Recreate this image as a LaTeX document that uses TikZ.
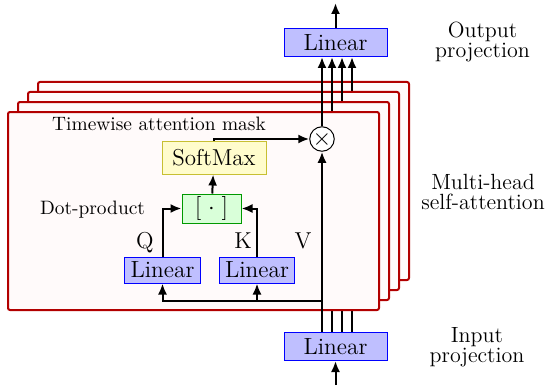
\documentclass[tikz,border=0pt]{standalone}
\usepackage{tikz}
\usetikzlibrary{arrows.meta}
\usepackage{amssymb}
\usepackage{xcolor}

\begin{document}
\begin{tikzpicture}[x=0.5pt,y=0.5pt,yscale=-1,xscale=1,
  linbox/.style={draw=blue,fill=blue!25,line width=0.5pt,inner xsep=3pt,inner ysep=0pt,minimum height=13pt,font=\fontsize{11.7}{14}\selectfont},
  projbox/.style={linbox,minimum width=51.5pt,minimum height=14pt},
  dotbox/.style={draw=green!60!black,fill=green!15,line width=0.5pt,minimum width=29.5pt,minimum height=14.5pt,inner sep=0pt,font=\fontsize{11.5}{14}\selectfont},
  smbox/.style={draw=yellow!75!black,fill=yellow!20,line width=0.5pt,minimum width=52pt,minimum height=16.5pt,inner sep=0pt,font=\fontsize{11.5}{14}\selectfont},
  headbox/.style={draw=red!70!black,fill=red!2,line width=1pt,rounded corners=1pt,minimum width=185.5pt,minimum height=99pt,inner sep=0pt},
  mulnode/.style={circle,draw,fill=white,line width=0.5pt,inner sep=0pt,minimum size=11pt,font=\fontsize{12}{14}\selectfont},
  flow/.style={line width=1pt,-{Latex[length=5.5pt,width=4.5pt]}},
  lbl/.style={anchor=base,inner sep=0pt,font=\fontsize{9.7}{11}\selectfont},
  side/.style={align=center,inner sep=0pt,font=\fontsize{11}{10}\selectfont}
]
\useasboundingbox (0,0) rectangle (545,385);

%Shape: Input / output projections
\node[projbox] (topLin) at (335.5,42.5) {Linear};
\node[projbox] (botLin) at (335.5,346.5) {Linear};
\coordinate (inp) at (335.5,385);
\coordinate (outp) at (335.5,3);
\draw[flow] (inp) -- (botLin);
\draw[flow] (topLin) -- (outp);

%Shape: back heads
\foreach \k in {3,2,1}{
  \node[headbox] (hd\k) at (193.5+10*\k,211-10*\k) {};
  \coordinate (v\k) at (322+10*\k,211-10*\k);
  \draw[flow] (botLin.north -| v\k) -- (topLin.south -| v\k);
}

%Shape: front head
\node[headbox] (hd0) at (193.5,211) {};
\node[mulnode] (mul) at (322,139) {$\times$};
\node[smbox] (sm) at (214,157.5) {SoftMax};
\node[dotbox] (dot) at (211.5,208.5) {$[\;\cdot\;]$};
\node[linbox] (lq) at (162.5,270) {Linear};
\node[linbox] (lk) at (257,270) {Linear};
\coordinate (tap) at (322,301);

%Straight Lines
\draw[flow] (botLin.north -| mul) -- (mul);
\draw[flow] (mul) -- (topLin.south -| mul);
\draw[flow] (tap) -| (lq);
\draw[flow] (tap -| lk) -- (lk);
\draw[flow] (lq) |- (dot);
\draw[flow] (lk) |- (dot);
\draw[flow] (dot) -- (sm);
\draw[flow] (sm) |- (mul);

% Text Node
\node[lbl] (tw) at (159,130) {Timewise attention mask};
% Text Node
\node[lbl] (dp) at (92.5,214) {Dot-product};
% Text Node
\node[lbl,font=\fontsize{11.5}{13}\selectfont] (lblq) at (145,248) {Q};
\node[lbl,font=\fontsize{11.5}{13}\selectfont] (lblk) at (243,248) {K};
\node[lbl,font=\fontsize{11.5}{13}\selectfont] (lblv) at (303,248) {V};
% Text Node
\node[side] (outlbl) at (482.5,41.7) {Output\\projection};
\node[side] (mhlbl) at (483,192.3) {Multi-head\\self-attention};
\node[side] (inlbl) at (477,346.8) {Input\\projection};

\end{tikzpicture}
\end{document}
